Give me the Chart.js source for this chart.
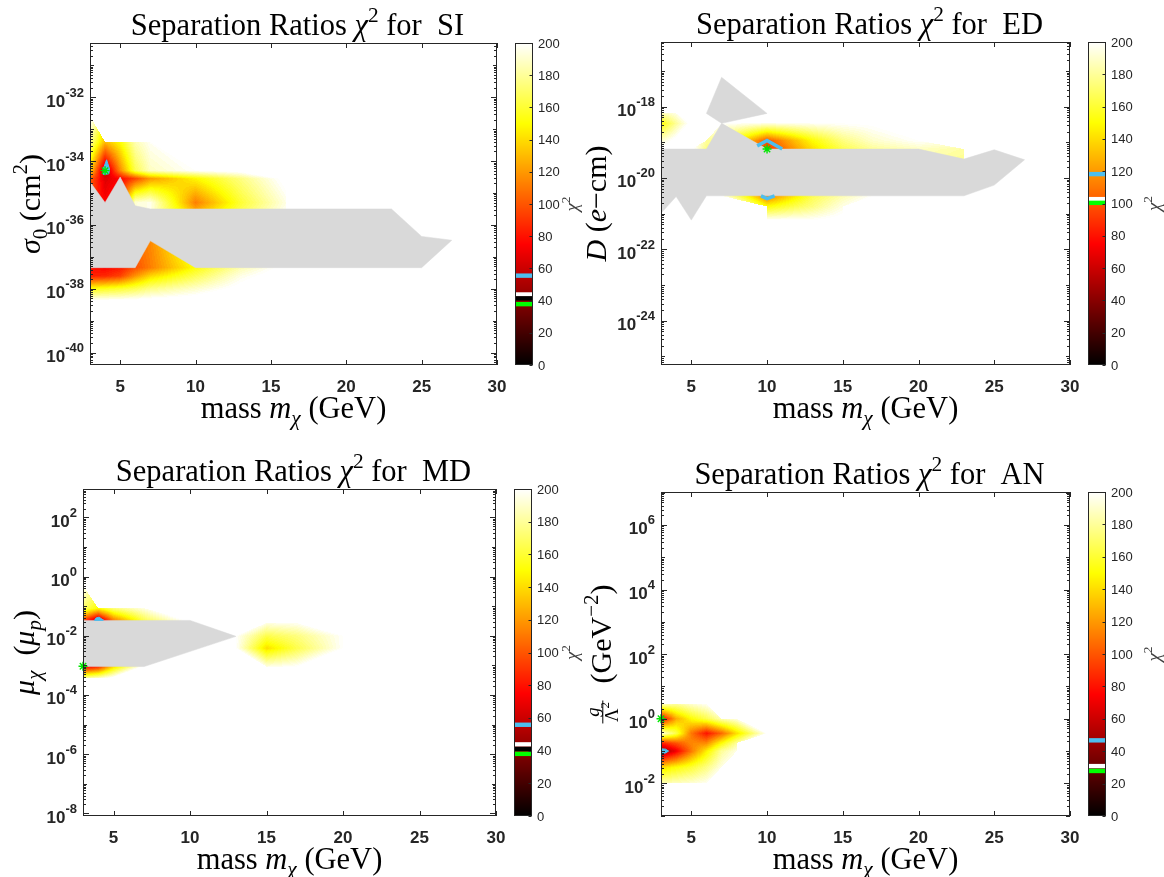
<!DOCTYPE html>
<html>
<head>
<meta charset="utf-8">
<script src="https://cdn.jsdelivr.net/npm/chart.js@4.4.1/dist/chart.umd.min.js"></script>
<style>
html, body { margin: 0; padding: 0; background: #fff; }
#fig { position: relative; width: 1164px; height: 877px; overflow: hidden; }
#fig canvas { position: absolute; }
</style>
</head>
<body>
<div id="fig">
  <canvas id="si" width="582" height="438" style="left:0;top:0"></canvas>
  <canvas id="ed" width="582" height="438" style="left:582px;top:0"></canvas>
  <canvas id="md" width="582" height="439" style="left:0;top:438px"></canvas>
  <canvas id="an" width="582" height="439" style="left:582px;top:438px"></canvas>
</div>
<script>
// shared axes
const massTicks = [5, 10, 15, 20, 25, 30];
const cbTicks = [0, 20, 40, 60, 80, 100, 120, 140, 160, 180, 200];
const levelColors = ['#4dbeee', '#ffffff', '#000000', '#00ff00'];

// ---- SI : sigma_0 (cm^2), y stored as log10 ----
const siMass = [3, 4, 5, 6, 7, 10, 13, 16, 20];
const siLogSigma = [-32.6, -33.4, -34.3, -34.55, -35.3, -35.55, -36.5, -37.34, -37.6, -38.0, -38.4];
const siChi2 = [
  [205, null, null, null, null, null, null, null, null],
  [180, 130, 150, 185, 198, null, null, null, null],
  [140, 50, 115, 165, 188, 200, 205, null, null],
  [105, 65, 75, 95, 120, 148, 175, 205, null],
  [90, 75, 90, 192, 196, 112, 160, 195, null],
  [90, 80, 90, 192, 196, 125, 165, 198, null],
  [90, 85, 95, 108, 115, 168, 205, null, null],
  [80, 76, 82, 98, 112, 152, 185, 205, null],
  [84, 86, 94, 118, 138, 166, 195, 210, null],
  [152, 156, 160, 166, 176, 190, 205, null, null],
  [205, 205, 205, 206, 207, 210, null, null, null]
];
const siGray = [[3, -34.65], [4, -35.3], [5, -34.5], [6, -35.4], [7, -35.5], [23, -35.5], [25, -36.36], [27, -36.48],
  [25, -37.34], [10, -37.34], [7, -36.5], [6, -37.34], [3, -37.34]];
const siCyan = [[4.1, -33.96], [4.3, -34.25], [4.25, -34.4], [3.9, -34.42], [3.88, -34.25]];
const siBest = [4.0, -34.3];
const siLevels = [55.5, 43.8, 41.4, 37.8];
const siExp = [-40, -38, -36, -34, -32];

// ---- ED : D (e-cm) ----
const edMass = [3, 4, 5, 6, 7, 10, 13, 15, 17, 20, 23, 25];
const edLogD = [-18.19, -18.47, -18.95, -19.19, -19.47, -20.5, -20.8, -21.18];
const edChi2 = [
  [185, 195, null, null, null, null, null, null, null, null, null, null],
  [150, 180, 205, null, 200, 195, 198, 200, 202, null, null, null],
  [190, 205, null, 180, 175, 100, 150, 175, 190, 200, null, null],
  [205, 205, 205, 175, 170, 90, 140, 165, 180, 188, 182, null],
  [205, 205, 205, 180, 180, 95, 145, 170, 185, 185, 178, null],
  [205, 205, 205, 205, 200, 110, 165, 185, 200, null, null, null],
  [205, 205, 205, 205, null, 150, 175, 195, null, null, null, null],
  [null, null, null, null, null, 200, 200, 205, null, null, null, null]
];
const edGrayTop = [[7, -17.18], [10, -18.19], [7, -18.47], [6, -18.19]];
const edGray = [[3, -19.19], [6, -19.19], [7, -18.47], [10, -19.19], [20, -19.19], [23, -19.47], [25, -19.21], [27, -19.49],
  [25, -20.2], [23, -20.5], [6, -20.5], [5, -21.18], [4, -20.52], [3, -20.99]];
const edCyanUpper = [[9.35, -19.1], [10, -18.95], [11, -19.19]];
const edCyanLower = [[9.6, -20.5], [10, -20.58], [10.5, -20.5]];
const edBest = [10, -19.19];
const edLevels = [118.2, 102.7, null, 100.4];
const edExp = [-24, -22, -20, -18];

// ---- MD : mu_chi (mu_p) ----
const mdMass = [3, 4, 5, 7, 10, 13, 15, 17, 20];
const mdLogMu = [-0.3, -1.07, -1.48, -1.57, -2.0, -2.42, -3.04, -3.43];
const mdChi2 = [
  [200, null, null, null, null, null, null, null, null],
  [170, 150, 175, 195, null, null, null, null, null],
  [95, 50, 110, 165, 205, null, null, null, null],
  [100, 60, 115, 170, 205, null, 195, 198, null],
  [100, 60, 110, 170, 210, 200, 165, 175, 200],
  [80, 60, 110, 170, 210, 200, 140, 165, 200],
  [70, 85, 140, 205, null, null, 195, 200, null],
  [180, 190, 205, null, null, null, null, null, null]
];
const mdGray = [[3, -1.48], [10, -1.48], [13, -2.02], [7, -3.04], [3, -3.04]];
const mdCyan = [[3.75, -1.48], [3.85, -1.4], [4.05, -1.37], [4.25, -1.44], [4.3, -1.48]];
const mdBest = [3, -3.03];
const mdLevels = [55.8, 43.8, 41.0, 38.0];
const mdExp = [-8, -6, -4, -2, 0, 2];

// ---- AN : g / Lambda^2 (GeV^-2) ----
const anMass = [3, 4, 5, 6, 7, 8, 10];
const anLogG = [0.45, 0, -0.45, -0.75, -1.0, -1.5, -2.0];
const anChi2 = [
  [185, 180, 190, 198, null, null, null],
  [70, 125, 150, 165, 185, 195, null],
  [195, 165, 110, 80, 105, 140, 200],
  [85, 100, 115, 115, 150, 180, null],
  [42, 70, 110, 145, 180, 195, null],
  [140, 150, 160, 175, 195, null, null],
  [185, 188, 192, 198, null, null, null]
];
const anCyan = [[3, -0.93], [3.3, -0.94], [3.5, -1.0], [3.3, -1.06], [3, -1.07]];
const anBest = [3, 0.0];
const anLevels = [46.7, 30.8, null, 27.8];
const anExp = [-2, 0, 2, 4, 6];

const SERIF = '"Liberation Serif", "DejaVu Serif", serif';
const SANS = '"Liberation Sans", Arial, sans-serif';

// MATLAB-style "hot" map on 0..200
function hot(v) {
  const t = Math.max(0, Math.min(1, v / 200));
  return [
    Math.round(255 * Math.min(1, t / 0.375)),
    Math.round(255 * Math.max(0, Math.min(1, (t - 0.375) / 0.375))),
    Math.round(255 * Math.max(0, (t - 0.75) / 0.25))
  ];
}

// value inside the grid: bilinear on full cells, linear on the
// triangle left when one corner is missing, nothing otherwise
function chi2At(mass, logy, grid, xv, yv) {
  if (xv < mass[0] || xv > mass[mass.length - 1]) return null;
  if (yv > logy[0] || yv < logy[logy.length - 1]) return null;
  let c = 0; while (c < mass.length - 2 && xv > mass[c + 1]) c++;
  let r = 0; while (r < logy.length - 2 && yv < logy[r + 1]) r++;
  const u = (xv - mass[c]) / (mass[c + 1] - mass[c]);
  const w = (logy[r] - yv) / (logy[r] - logy[r + 1]);
  const a = grid[r][c], b = grid[r][c + 1], d = grid[r + 1][c], e = grid[r + 1][c + 1];
  const miss = (a === null) + (b === null) + (d === null) + (e === null);
  if (miss === 0) return a * (1 - u) * (1 - w) + b * u * (1 - w) + d * (1 - u) * w + e * u * w;
  if (miss > 1) return null;
  if (e === null) return u + w <= 1 ? a + (b - a) * u + (d - a) * w : null;
  if (a === null) return u + w >= 1 ? e + (d - e) * (1 - u) + (b - e) * (1 - w) : null;
  if (b === null) return w >= u ? a + (e - d) * u + (d - a) * w : null;
  return u >= w ? a + (b - a) * u + (e - b) * w : null;
}

function drawHeat(chart, p) {
  const {ctx, chartArea: a, scales: {x, y}} = chart;
  const w = Math.round(a.right - a.left), h = Math.round(a.bottom - a.top);
  const off = document.createElement('canvas');
  off.width = w; off.height = h;
  const octx = off.getContext('2d');
  const img = octx.createImageData(w, h);
  for (let j = 0; j < h; j++) {
    const yv = y.getValueForPixel(a.top + j + 0.5);
    for (let i = 0; i < w; i++) {
      const xv = x.getValueForPixel(a.left + i + 0.5);
      let v = chi2At(p.mass, p.logy, p.chi2, xv, yv);
      if (v === null || v >= 200) continue;
      v = Math.floor(v / 2.5) * 2.5 + 1.25; // contour bands
      const c = hot(v), k = (j * w + i) * 4;
      img.data[k] = c[0]; img.data[k + 1] = c[1]; img.data[k + 2] = c[2]; img.data[k + 3] = 255;
    }
  }
  octx.putImageData(img, 0, 0);
  ctx.drawImage(off, a.left, a.top);
}

// text made of runs: [text, flags]  i = italic, ^ = sup, _ = sub, f = fraction "num|den|sup"
function drawRuns(ctx, runs, cx, cy, size, rot, color) {
  const items = [];
  let width = 0;
  for (const [t, f = ''] of runs) {
    if (f.includes('f')) {
      const [num, den, sup] = t.split('|');
      const s = size * 0.62;
      ctx.font = 'italic ' + s + 'px ' + SERIF; const nw = ctx.measureText(num).width;
      ctx.font = s + 'px ' + SERIF; const dw = ctx.measureText(den).width;
      ctx.font = (s * 0.7) + 'px ' + SERIF; const sw = ctx.measureText(sup).width;
      const fw = Math.max(nw, dw + sw) + 3;
      items.push({frac: true, num, den, sup, s, nw, dw, sw, fw, x: width});
      width += fw + 2;
      continue;
    }
    const small = f.includes('^') || f.includes('_');
    const s = small ? size * 0.7 : size;
    const font = (f.includes('i') ? 'italic ' : '') + s + 'px ' + SERIF;
    ctx.font = font;
    const tw = ctx.measureText(t).width;
    const dy = f.includes('^') ? -0.42 * size : f.includes('_') ? 0.22 * size : 0;
    items.push({t, font, dy, x: width});
    width += tw;
  }
  ctx.save();
  ctx.translate(cx, cy);
  ctx.rotate(rot || 0);
  ctx.fillStyle = color; ctx.strokeStyle = color;
  ctx.textAlign = 'left'; ctx.textBaseline = 'alphabetic';
  const base = size * 0.33, x0 = -width / 2;
  for (const it of items) {
    if (it.frac) {
      const axis = base - 0.27 * size, left = x0 + it.x;
      ctx.lineWidth = 1;
      ctx.beginPath(); ctx.moveTo(left, axis); ctx.lineTo(left + it.fw, axis); ctx.stroke();
      ctx.font = 'italic ' + it.s + 'px ' + SERIF;
      ctx.fillText(it.num, left + (it.fw - it.nw) / 2, axis - 0.12 * size);
      const dl = left + (it.fw - it.dw - it.sw) / 2, db = axis + 0.5 * size;
      ctx.font = it.s + 'px ' + SERIF; ctx.fillText(it.den, dl, db);
      ctx.font = (it.s * 0.7) + 'px ' + SERIF; ctx.fillText(it.sup, dl + it.dw, db - 0.28 * size);
      continue;
    }
    ctx.font = it.font;
    ctx.fillText(it.t, x0 + it.x, base + it.dy);
  }
  ctx.restore();
}

function drawFrame(chart, p) {
  const {ctx, chartArea: a, scales: {x, y}} = chart;
  ctx.save();
  ctx.strokeStyle = '#262626'; ctx.lineWidth = 1;
  ctx.beginPath();
  for (const m of massTicks) {
    const px = Math.round(x.getPixelForValue(m)) + 0.5;
    ctx.moveTo(px, a.bottom); ctx.lineTo(px, a.bottom - 5);
    ctx.moveTo(px, a.top); ctx.lineTo(px, a.top + 5);
  }
  for (let n = Math.floor(p.yMin); n <= Math.ceil(p.yMax); n++) {
    for (let k = 1; k <= 9; k++) {
      const v = n + Math.log10(k);
      if (v < p.yMin || v > p.yMax) continue;
      const len = k === 1 ? (p.exps.includes(n) ? 6 : 4) : 3;
      const py = Math.round(y.getPixelForValue(v)) + 0.5;
      ctx.moveTo(a.left, py); ctx.lineTo(a.left + len, py);
      ctx.moveTo(a.right, py); ctx.lineTo(a.right - len, py);
    }
  }
  ctx.stroke();
  ctx.strokeRect(Math.round(a.left) + 0.5, Math.round(a.top) + 0.5, Math.round(a.right - a.left) - 1, Math.round(a.bottom - a.top) - 1);

  ctx.fillStyle = '#262626';
  ctx.textBaseline = 'alphabetic';
  ctx.font = 'bold 17px ' + SANS;
  ctx.textAlign = 'center';
  for (const m of massTicks) ctx.fillText(String(m), x.getPixelForValue(m), a.bottom + 27);
  ctx.textAlign = 'right';
  for (const n of p.exps) {
    const py = y.getPixelForValue(n);
    const e = String(n);
    ctx.font = 'bold 13px ' + SANS;
    const ew = ctx.measureText(e).width;
    ctx.fillText(e, a.left - 6, py - 0.5);
    ctx.font = 'bold 17px ' + SANS;
    ctx.fillText('10', a.left - 6 - ew, py + 9.5);
  }
  ctx.restore();
}

function drawColorbar(chart, p) {
  const {ctx, chartArea: a, scales: {cb}} = chart;
  const x0 = Math.round(a.right + 18), x1 = Math.round(a.right + 35.5);
  ctx.save();
  for (let py = Math.floor(cb.top); py < Math.ceil(cb.bottom); py++) {
    const c = hot(cb.getValueForPixel(py + 0.5));
    ctx.fillStyle = 'rgb(' + c.join(',') + ')';
    ctx.fillRect(x0, py, x1 - x0, 1);
  }
  p.levels.forEach((lv, i) => {
    if (lv === null) return;
    const py = cb.getPixelForValue(lv);
    ctx.fillStyle = levelColors[i];
    ctx.fillRect(x0, py - 2.2, x1 - x0, 4.4);
  });
  ctx.strokeStyle = '#262626'; ctx.lineWidth = 1;
  ctx.strokeRect(x0 + 0.5, Math.round(cb.top) + 0.5, x1 - x0 - 1, Math.round(cb.bottom - cb.top) - 1);
  ctx.beginPath();
  for (const t of cbTicks) {
    const py = Math.round(cb.getPixelForValue(t)) + 0.5;
    ctx.moveTo(x1 - 0.5, py); ctx.lineTo(x1 - 3.5, py);
  }
  ctx.stroke();
  ctx.fillStyle = '#262626';
  ctx.font = '13px ' + SANS;
  ctx.textAlign = 'left'; ctx.textBaseline = 'alphabetic';
  for (const t of cbTicks) ctx.fillText(String(t), x1 + 5, cb.getPixelForValue(t) + 4.5);
  ctx.restore();
  drawRuns(ctx, [['χ', 'i'], ['2', '^']], 572, (cb.top + cb.bottom) / 2, 19, -Math.PI / 2, '#404040');
}

function drawTexts(chart, p) {
  const {ctx, chartArea: a} = chart;
  const mid = (a.left + a.right) / 2;
  drawRuns(ctx, [['Separation Ratios '], ['χ', 'i'], ['2', '^'], [' for  ' + p.name]], mid + 4, a.top - 18.5, 30.5, 0, '#000');
  drawRuns(ctx, [['mass '], ['m', 'i'], ['χ', 'i_'], [' (GeV)']], mid, a.bottom + 43, 30.5, 0, '#000');
  drawRuns(ctx, p.ylabel, a.left + p.ylabelDx, (a.top + a.bottom) / 2, 30, -Math.PI / 2, '#000');
}

const pts = arr => arr.map(([m, l]) => ({x: m, y: l}));
const closed = arr => pts(arr.concat([arr[0]]));

function makePanel(p) {
  const datasets = [];
  for (const b of p.best) {
    datasets.push({data: pts([b]), pointStyle: 'star', pointRadius: 4.5, pointBorderColor: '#00e600',
      pointBackgroundColor: '#00e600', pointBorderWidth: 1.4, showLine: false, clip: false, order: 0});
  }
  for (const c of p.cyanFill) {
    datasets.push({data: closed(c), showLine: true, fill: 'shape', backgroundColor: '#4dbeee',
      borderColor: '#4dbeee', borderWidth: 1, pointRadius: 0, order: 1});
  }
  for (const c of p.cyanLine) {
    datasets.push({data: pts(c), showLine: true, fill: false, borderColor: '#4dbeee',
      borderWidth: 3.5, pointRadius: 0, order: 1});
  }
  for (const g of p.gray) {
    datasets.push({data: closed(g), showLine: true, fill: 'shape', backgroundColor: '#d9d9d9',
      borderColor: '#d9d9d9', borderWidth: 0.5, pointRadius: 0, order: 2});
  }
  return new Chart(document.getElementById(p.id), {
    type: 'scatter',
    data: {datasets},
    options: {
      responsive: false,
      animation: false,
      events: [],
      layout: {padding: p.pad},
      plugins: {legend: {display: false}, tooltip: {enabled: false}, title: {display: false}},
      scales: {
        x: {type: 'linear', min: 3, max: 30, display: false},
        y: {type: 'linear', min: p.yMin, max: p.yMax, display: false},
        cb: {type: 'linear', axis: 'y', position: 'right', min: 0, max: 200, display: false}
      }
    },
    plugins: [{
      id: 'panel-' + p.id,
      beforeDatasetsDraw(chart) { drawHeat(chart, p); },
      afterDraw(chart) { drawFrame(chart, p); drawColorbar(chart, p); drawTexts(chart, p); }
    }]
  });
}

makePanel({
  id: 'si', name: 'SI', pad: {left: 90, top: 43, right: 85, bottom: 73},
  yMin: -40.39, yMax: -30.30, exps: siExp,
  mass: siMass, logy: siLogSigma, chi2: siChi2,
  gray: [siGray], cyanFill: [siCyan], cyanLine: [], best: [siBest], levels: siLevels,
  ylabel: [['σ', 'i'], ['0', '_'], [' (cm'], ['2', '^'], [')']], ylabelDx: -60
});
makePanel({
  id: 'ed', name: 'ED', pad: {left: 79, top: 42, right: 94, bottom: 73},
  yMin: -25.24, yMax: -16.19, exps: edExp,
  mass: edMass, logy: edLogD, chi2: edChi2,
  gray: [edGrayTop, edGray], cyanFill: [], cyanLine: [edCyanUpper, edCyanLower], best: [edBest], levels: edLevels,
  ylabel: [['D', 'i'], [' ('], ['e', 'i'], ['−cm)']], ylabelDx: -65
});
makePanel({
  id: 'md', name: 'MD', pad: {left: 83, top: 51, right: 86, bottom: 61},
  yMin: -8.09, yMax: 2.96, exps: mdExp,
  mass: mdMass, logy: mdLogMu, chi2: mdChi2,
  gray: [mdGray], cyanFill: [mdCyan], cyanLine: [], best: [mdBest], levels: mdLevels,
  ylabel: [['μ', 'i'], ['χ', 'i_'], ['  ('], ['μ', 'i'], ['p', 'i_'], [')']], ylabelDx: -59
});
makePanel({
  id: 'an', name: 'AN', pad: {left: 79, top: 54, right: 94, bottom: 61},
  yMin: -3.01, yMax: 7.02, exps: anExp,
  mass: anMass, logy: anLogG, chi2: anChi2,
  gray: [], cyanFill: [anCyan], cyanLine: [], best: [anBest], levels: anLevels,
  ylabel: [['g|Λ|2', 'f'], ['  (GeV'], ['−2', '^'], [')']], ylabelDx: -60
});
</script>
</body>
</html>
